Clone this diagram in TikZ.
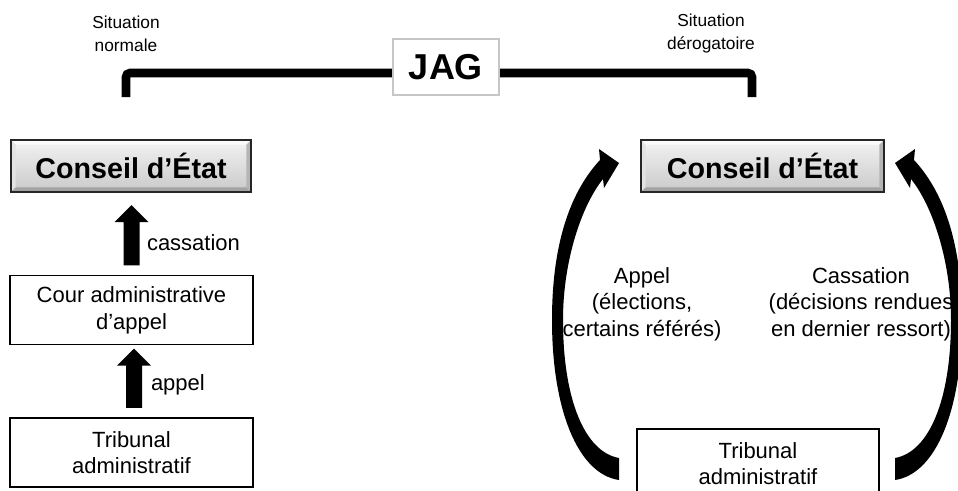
\documentclass[tikz,border=0pt]{standalone}
\usepackage{fontspec}
\setmainfont{Liberation Sans}
\usetikzlibrary{calc}

% straight block arrow pointing up: #1 = foot of the shaft, #2 = tip
\newcommand\blockup[2]{%
  \fill[black] ($(#1)+(-8,0)$) -- ($(#2)+(-8,17)$) -- ($(#2)+(-17,17)$) -- (#2)
    -- ($(#2)+(17,17)$) -- ($(#2)+(8,17)$) -- ($(#1)+(8,0)$) -- cycle;}

% curved block arrow, drawn relative to the centre of its flat tail
\newcommand\curvedarrow{%
  \fill[black] (0,11) .. controls (-41,5) and (-67,-59) .. (-67,-149)
    .. controls (-67,-229) and (-47,-279) .. (-19,-309)
    -- (-20,-320) -- (0,-306) -- (-15,-281) -- (-16,-290)
    .. controls (-37,-264) and (-56,-209) .. (-56,-149)
    .. controls (-56,-69) and (-34,-17) .. (0,-11) -- cycle;}

\tikzset{
  every node/.style={inner sep=0pt, outer sep=0pt},
  body/.style={font=\fontsize{16.5}{20}\selectfont, align=center},
  situ/.style={font=\fontsize{13}{17.2}\selectfont, align=center},
  plainbox/.style={body, draw=black, line width=1.1pt, fill=white,
    minimum width=182.25pt, minimum height=52pt},
  jagbox/.style={draw=gray!45, line width=0.8pt, fill=white,
    minimum width=79.5pt, minimum height=42pt,
    font=\fontsize{27}{30}\selectfont\bfseries},
  bracket/.style={line width=6.4pt, rounded corners=3pt},
  ce/.style={draw=black!85, line width=1.3pt,
    top color=gray!10, bottom color=gray!42,
    minimum height=39pt,
    font=\fontsize{21.5}{24}\selectfont\bfseries,
    path picture={
      \path (path picture bounding box.north west) coordinate (bvnw)
            (path picture bounding box.north east) coordinate (bvne)
            (path picture bounding box.south east) coordinate (bvse)
            (path picture bounding box.south west) coordinate (bvsw);
      \fill[gray!4] (bvnw) -- (bvne) -- ($(bvne)+(-3.5pt,-3.5pt)$)
        -- ($(bvnw)+(3.5pt,-3.5pt)$) -- cycle;
      \fill[gray!22] (bvnw) -- ($(bvnw)+(3.5pt,-3.5pt)$)
        -- ($(bvsw)+(3.5pt,3.5pt)$) -- (bvsw) -- cycle;
      \fill[gray!58] (bvne) -- (bvse) -- ($(bvse)+(-3.5pt,3.5pt)$)
        -- ($(bvne)+(-3.5pt,-3.5pt)$) -- cycle;
      \fill[gray!72] (bvsw) -- (bvse) -- ($(bvse)+(-3.5pt,3.5pt)$)
        -- ($(bvsw)+(3.5pt,3.5pt)$) -- cycle;
    }},
}

\begin{document}
\begin{tikzpicture}[x=0.75pt, y=-0.75pt]
\useasboundingbox (0,0) rectangle (958,490);
\clip (0,0) rectangle (958,490);

% heading: JAG over its two situations
\coordinate (brL) at (126,97);
\coordinate (brR) at (752,97);
\draw[bracket] (brL) |- ($(brR)+(0,-24)$) -- (brR);
\node[jagbox] (jag) at (446,67) {JAG};
\node[situ] (sitN) at (126,33.5) {Situation\\normale};
\node[situ] (sitD) at (711,33.5) {Situation\\dérogatoire};

% left column: ordinary route
\node[ce, minimum width=180pt] (ceL) at (131,166) {Conseil d’État};
\node[plainbox] (cour) at (131.5,310) {Cour administrative\\d’appel};
\node[plainbox] (tribL) at (131.5,452.5) {Tribunal\\administratif};

\coordinate (casB) at ($(cour.north)+(0,-10)$);
\coordinate (casT) at ($(casB |- ceL.south)+(0,13)$);
\blockup{casB}{casT}
\node[body, anchor=west] (lcas) at (147,243) {cassation};

\coordinate (appB) at ($(tribL.north)+(2.5,-10)$);
\coordinate (appT) at ($(appB |- cour.south)+(0,4)$);
\blockup{appB}{appT}
\node[body, anchor=west] (lapp) at (151,385) {appel};

% right column: derogatory route
\node[ce, minimum width=182.25pt] (ceR) at (762.5,166) {Conseil d’État};
\node[plainbox, minimum width=181.5pt] (tribR) at (758,463.5) {Tribunal\\administratif};

\coordinate (apTail) at ($(tribR.west)+(-18,5.5)$);
\coordinate (caTail) at ($(tribR.east)+(16,5.5)$);
\begin{scope}[shift={(apTail)}]
  \curvedarrow
\end{scope}
\begin{scope}[shift={(caTail)}, xscale=-1]
  \curvedarrow
\end{scope}

\node[body] (lAppel) at (642,304) {Appel\\(élections,\\certains référés)};
\node[body] (lCass) at (861,304) {Cassation\\(décisions rendues\\en dernier ressort)};
\end{tikzpicture}
\end{document}
